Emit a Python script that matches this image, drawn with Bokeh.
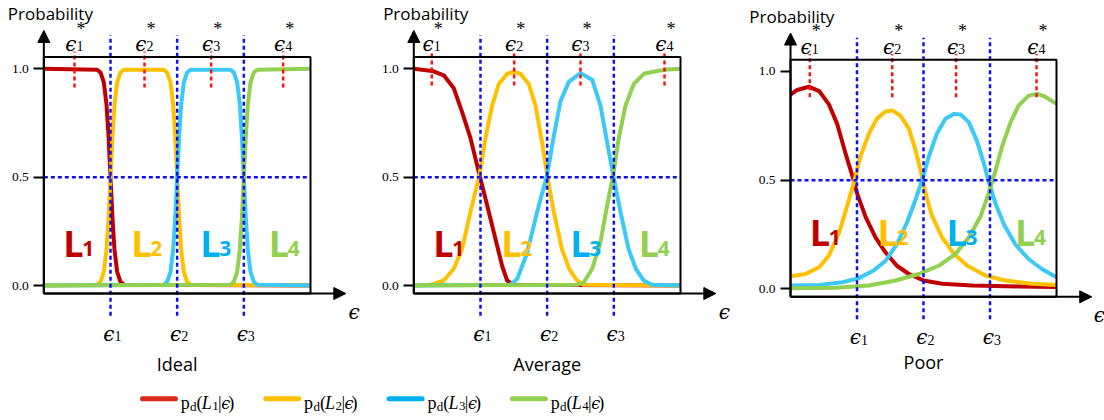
from bokeh.plotting import figure
from bokeh.layouts import row, column
from bokeh.models import Range1d, FixedTicker, PrintfTickFormatter, Arrow, NormalHead, BoxAnnotation
from bokeh.core.properties import value
from bokeh.embed import file_html
from bokeh.resources import INLINE

# ---------------- data ----------------
panel_titles = ["Ideal", "Average", "Poor"]
series_digits = ["1", "2", "3", "4"]
thresholds = [1.0, 2.0, 3.0]          # eps_1, eps_2, eps_3
y_ticks = [0.0, 0.5, 1.0]

eps_star_ideal = [0.46, 1.51, 2.51, 3.59]
eps_star_average = [0.27, 1.505, 2.50, 3.76]
eps_star_poor = [0.29, 1.53, 2.49, 3.70]

# Ideal
ideal_L1_x = [0, 0.8, 0.85, 0.9, 0.94, 0.97, 1.0, 1.03, 1.06, 1.1, 1.15, 1.2, 4.0]
ideal_L1_y = [1.0, 0.996, 0.983, 0.937, 0.835, 0.69, 0.5, 0.31, 0.165, 0.063, 0.017, 0.004, 0.0]
ideal_L2_x = [0, 0.8, 0.85, 0.9, 0.94, 0.97, 1.0, 1.03, 1.06, 1.1, 1.15, 1.2,
              1.8, 1.85, 1.9, 1.94, 1.97, 2.0, 2.03, 2.06, 2.1, 2.15, 2.2, 4.0]
ideal_L2_y = [0.0, 0.004, 0.017, 0.063, 0.165, 0.31, 0.5, 0.69, 0.835, 0.937, 0.983, 0.996,
              0.996, 0.983, 0.937, 0.835, 0.69, 0.5, 0.31, 0.165, 0.063, 0.017, 0.004, 0.0]
ideal_L3_x = [0, 1.8, 1.85, 1.9, 1.94, 1.97, 2.0, 2.03, 2.06, 2.1, 2.15, 2.2,
              2.8, 2.85, 2.9, 2.94, 2.97, 3.0, 3.03, 3.06, 3.1, 3.15, 3.2, 4.0]
ideal_L3_y = [0.0, 0.004, 0.017, 0.063, 0.165, 0.31, 0.5, 0.69, 0.835, 0.937, 0.983, 0.996,
              0.996, 0.983, 0.937, 0.835, 0.69, 0.5, 0.31, 0.165, 0.063, 0.017, 0.004, 0.0]
ideal_L4_x = [0, 2.8, 2.85, 2.9, 2.94, 2.97, 3.0, 3.03, 3.06, 3.1, 3.15, 3.2, 4.0]
ideal_L4_y = [0.0, 0.004, 0.017, 0.063, 0.165, 0.31, 0.5, 0.69, 0.835, 0.937, 0.983, 0.996, 1.0]

# Average
average_L1_x = [0, 0.275, 0.45, 0.6, 0.725, 0.85, 0.985, 1.1, 1.225, 1.325, 1.4, 1.5, 4.0]
average_L1_y = [1.0, 0.99, 0.97, 0.91, 0.80, 0.68, 0.51, 0.37, 0.215, 0.09, 0.023, 0.003, 0.0]
average_L2_x = [0, 0.25, 0.45, 0.6, 0.725, 0.85, 0.985, 1.075, 1.175, 1.275, 1.4, 1.5,
                1.6, 1.725, 1.825, 1.925, 2.0, 2.1, 2.22, 2.33, 2.45, 2.55, 4.0]
average_L2_y = [0.0, 0.003, 0.023, 0.077, 0.17, 0.34, 0.51, 0.68, 0.83, 0.93, 0.977, 0.985,
                0.977, 0.93, 0.83, 0.66, 0.51, 0.34, 0.17, 0.077, 0.023, 0.003, 0.0]
average_L3_x = [0, 1.45, 1.55, 1.7, 1.85, 2.0, 2.1, 2.2, 2.325, 2.5, 2.675, 2.8, 2.9,
                2.99, 3.1, 3.22, 3.33, 3.45, 3.57, 4.0]
average_L3_y = [0.0, 0.003, 0.03, 0.15, 0.34, 0.51, 0.69, 0.85, 0.94, 0.98, 0.95, 0.83, 0.66,
                0.51, 0.34, 0.17, 0.077, 0.023, 0.003, 0.0]
average_L4_x = [0, 2.45, 2.55, 2.675, 2.8, 2.9, 2.99, 3.075, 3.175, 3.3, 3.45, 3.65, 3.8, 4.0]
average_L4_y = [0.0, 0.003, 0.015, 0.077, 0.2, 0.37, 0.51, 0.68, 0.83, 0.93, 0.977, 0.99, 0.997, 1.0]

# Poor
poor_L1_x = [0, 0.1, 0.275, 0.43, 0.575, 0.7, 0.83, 0.93, 1.0, 1.13, 1.28, 1.43, 1.6, 1.78,
             2.0, 2.28, 2.73, 3.43, 4.0]
poor_L1_y = [0.894, 0.915, 0.93, 0.91, 0.85, 0.76, 0.62, 0.52, 0.44, 0.33, 0.235, 0.167, 0.106,
             0.068, 0.038, 0.023, 0.015, 0.011, 0.008]
poor_L2_x = [0, 0.225, 0.43, 0.575, 0.73, 0.85, 0.95, 1.05, 1.18, 1.3, 1.43, 1.53, 1.65, 1.78,
             1.88, 1.955, 2.03, 2.13, 2.28, 2.46, 2.66, 2.93, 3.23, 3.63, 4.0]
poor_L2_y = [0.058, 0.068, 0.099, 0.152, 0.258, 0.38, 0.486, 0.608, 0.714, 0.783, 0.816, 0.821,
             0.798, 0.737, 0.638, 0.547, 0.44, 0.334, 0.236, 0.16, 0.106, 0.061, 0.038, 0.023, 0.018]
poor_L3_x = [0, 0.43, 0.78, 1.03, 1.25, 1.43, 1.6, 1.75, 1.88, 1.98, 2.08, 2.2, 2.33, 2.46,
             2.56, 2.68, 2.8, 2.9, 2.98, 3.08, 3.21, 3.38, 3.58, 3.78, 4.0]
poor_L3_y = [0.015, 0.018, 0.03, 0.049, 0.084, 0.129, 0.205, 0.304, 0.41, 0.50, 0.608, 0.714,
             0.783, 0.805, 0.802, 0.767, 0.684, 0.585, 0.494, 0.395, 0.296, 0.205, 0.137, 0.091, 0.053]
poor_L4_x = [0, 0.68, 1.18, 1.58, 1.93, 2.23, 2.48, 2.68, 2.86, 2.98, 3.08, 3.18, 3.31, 3.43,
             3.58, 3.71, 3.83, 4.0]
poor_L4_y = [0.003, 0.005, 0.015, 0.038, 0.068, 0.106, 0.16, 0.236, 0.334, 0.44, 0.54, 0.653,
             0.767, 0.843, 0.889, 0.897, 0.884, 0.851]

# ---------------- styles ----------------
curve_colors = ["#C00000", "#FFC000", "#3BC9F5", "#92D050"]
label_colors = ["#C00000", "#FFC000", "#00B0F0", "#92D050"]
legend_colors = ["#DA2A1C", "#FFC000", "#00B0F0", "#92D050"]
BLUE_DASH = "#1010F0"
RED_DASH = "#FF1010"
SERIF = "Liberation Serif"
GREEK = "DejaVu Serif"
SANS = "Open Sans"
PANEL_H = 375
LEG_H = 43


def txt(p, x, y, s, size, font=SERIF, style="normal", color="black",
        align="left", baseline="alphabetic", xo=0, yo=0):
    p.text(x=[x], y=[y], text=[s], text_font=value(font), text_font_size=size,
           text_font_style=style, text_color=color, text_align=align,
           text_baseline=baseline, x_offset=xo, y_offset=yo)


def make_panel(width, xr, yr, curves, eps_star, title, prob_x, prob_y, lab_y, red_low,
               eps_end_x, title_y):
    p = figure(width=width, height=PANEL_H, x_range=Range1d(*xr), y_range=Range1d(*yr),
               output_backend="svg", toolbar_location=None,
               x_axis_location=None, y_axis_location="left", min_border=0)
    p.outline_line_color = None
    p.background_fill_color = "white"
    p.border_fill_color = "white"
    for g in p.grid:
        g.visible = False

    ax = p.yaxis[0]
    ax.fixed_location = 0
    ax.ticker = FixedTicker(ticks=y_ticks)
    ax.formatter = PrintfTickFormatter(format="%.1f")
    ax.axis_line_color = None
    ax.major_tick_out = 10
    ax.major_tick_in = 0
    ax.major_tick_line_width = 2
    ax.major_tick_line_color = "black"
    ax.minor_tick_line_color = None
    ax.major_label_standoff = 5
    ax.major_label_text_font = SERIF
    ax.major_label_text_font_size = "13.5px"
    ax.major_label_text_color = "black"

    # curves
    for (xs, ys), c in zip(curves, curve_colors):
        p.line(xs, ys, line_color=c, line_width=4, line_join="round")

    # dashed guides
    n = len(thresholds)
    p.segment(x0=thresholds, y0=[-0.14] * n, x1=thresholds, y1=[1.155] * n,
              line_color=BLUE_DASH, line_width=2.5, line_dash="4 3")
    p.segment(x0=[0], y0=[0.5], x1=[4], y1=[0.5],
              line_color=BLUE_DASH, line_width=2.5, line_dash="4 3")
    m = len(eps_star)
    p.segment(x0=eps_star, y0=[red_low] * m, x1=eps_star, y1=[1.08] * m,
              line_color=RED_DASH, line_width=2.5, line_dash="4 3")

    # box and axes arrows
    p.add_layout(BoxAnnotation(left=0, right=4, bottom=-0.037, top=1.054,
                               fill_alpha=0, line_color="black", line_alpha=1.0,
                               line_width=2))
    head = dict(size=12, fill_color="black", line_color="black", line_width=1)
    p.add_layout(Arrow(end=NormalHead(**head), x_start=0, y_start=-0.037,
                       x_end=0, y_end=1.177, line_width=2, line_color="black"))
    p.add_layout(Arrow(end=NormalHead(**head), x_start=0, y_start=-0.037,
                       x_end=4.53, y_end=-0.037, line_width=2, line_color="black"))

    # epsilon* labels (top)
    for i, xs in enumerate(eps_star):
        txt(p, xs, 1.115, "\u03f5", "20px", font=GREEK, style="italic", align="right", xo=2)
        txt(p, xs, 1.104, series_digits[i], "14px", align="left", xo=2)
        txt(p, xs, 1.185, "*", "18px", align="left", baseline="middle", xo=2)

    # epsilon_k labels (bottom)
    for i, t in enumerate(thresholds):
        txt(p, t, -0.222, "\u03f5", "20px", font=GREEK, style="italic", align="right", xo=4)
        txt(p, t, -0.234, series_digits[i], "14px", align="left", xo=4)

    # epsilon at x-axis end
    txt(p, eps_end_x, -0.12, "\u03f5", "20px", font=GREEK, style="italic")

    # big L labels
    L_x = [0.29, 1.31, 2.345, 3.375]
    for i in range(4):
        txt(p, L_x[i], lab_y, "L", "36px", font=SANS, style="bold", color=label_colors[i])
        txt(p, L_x[i], lab_y - 0.026, series_digits[i], "21px", font=SANS, style="bold",
            color=label_colors[i], xo=19)

    txt(p, prob_x, prob_y, "Probability", "17px", font=SANS)
    txt(p, 2.0, title_y, title, "18px", font=SANS, align="center")
    return p


p1 = make_panel(375, (-0.65, 4.975), (-0.4153, 1.3152),
                [(ideal_L1_x, ideal_L1_y), (ideal_L2_x, ideal_L2_y),
                 (ideal_L3_x, ideal_L3_y), (ideal_L4_x, ideal_L4_y)],
                eps_star_ideal, panel_titles[0], -0.54, 1.253, 0.195, 0.914, 4.57, -0.36)
p2 = make_panel(370, (-0.5745, 4.975), (-0.4153, 1.3152),
                [(average_L1_x, average_L1_y), (average_L2_x, average_L2_y),
                 (average_L3_x, average_L3_y), (average_L4_x, average_L4_y)],
                eps_star_average, panel_titles[1], -0.46, 1.253, 0.195, 0.923, 4.575, -0.36)
p3 = make_panel(359, (-0.677, 4.722), (-0.399, 1.3267),
                [(poor_L1_x, poor_L1_y), (poor_L2_x, poor_L2_y),
                 (poor_L3_x, poor_L3_y), (poor_L4_x, poor_L4_y)],
                eps_star_poor, panel_titles[2], -0.62, 1.255, 0.26, 0.882, 4.56, -0.339)

# ---------------- legend ----------------
leg = figure(width=1104, height=LEG_H, x_range=Range1d(0, 1104), y_range=Range1d(LEG_H, 0),
             output_backend="svg", toolbar_location=None,
             x_axis_location=None, y_axis_location=None, min_border=0)
leg.outline_line_color = None
for g in leg.grid:
    g.visible = False

for i, d in enumerate(series_digits):
    x0 = 142 + 123.3 * i
    leg.line([x0, x0 + 33], [23.3, 23.3], line_color=legend_colors[i], line_width=5,
             line_cap="round")
    t0 = x0 + 38.3
    txt(leg, t0, 27.5, "p", "18px")
    txt(leg, t0 + 9.3, 30.5, "d", "13px")
    txt(leg, t0 + 15.8, 27.5, "(", "18px")
    txt(leg, t0 + 21, 27.5, "L", "18px", style="italic")
    txt(leg, t0 + 31.5, 30.5, d, "13px")
    txt(leg, t0 + 37.3, 27.5, "|", "18px")
    txt(leg, t0 + 40.5, 27.5, "\u03f5", "16px", font=GREEK, style="italic")
    txt(leg, t0 + 47.5, 27.5, ")", "18px")

layout = column(row(p1, p2, p3), leg)
open("out.html", "w").write(file_html(layout, INLINE))
